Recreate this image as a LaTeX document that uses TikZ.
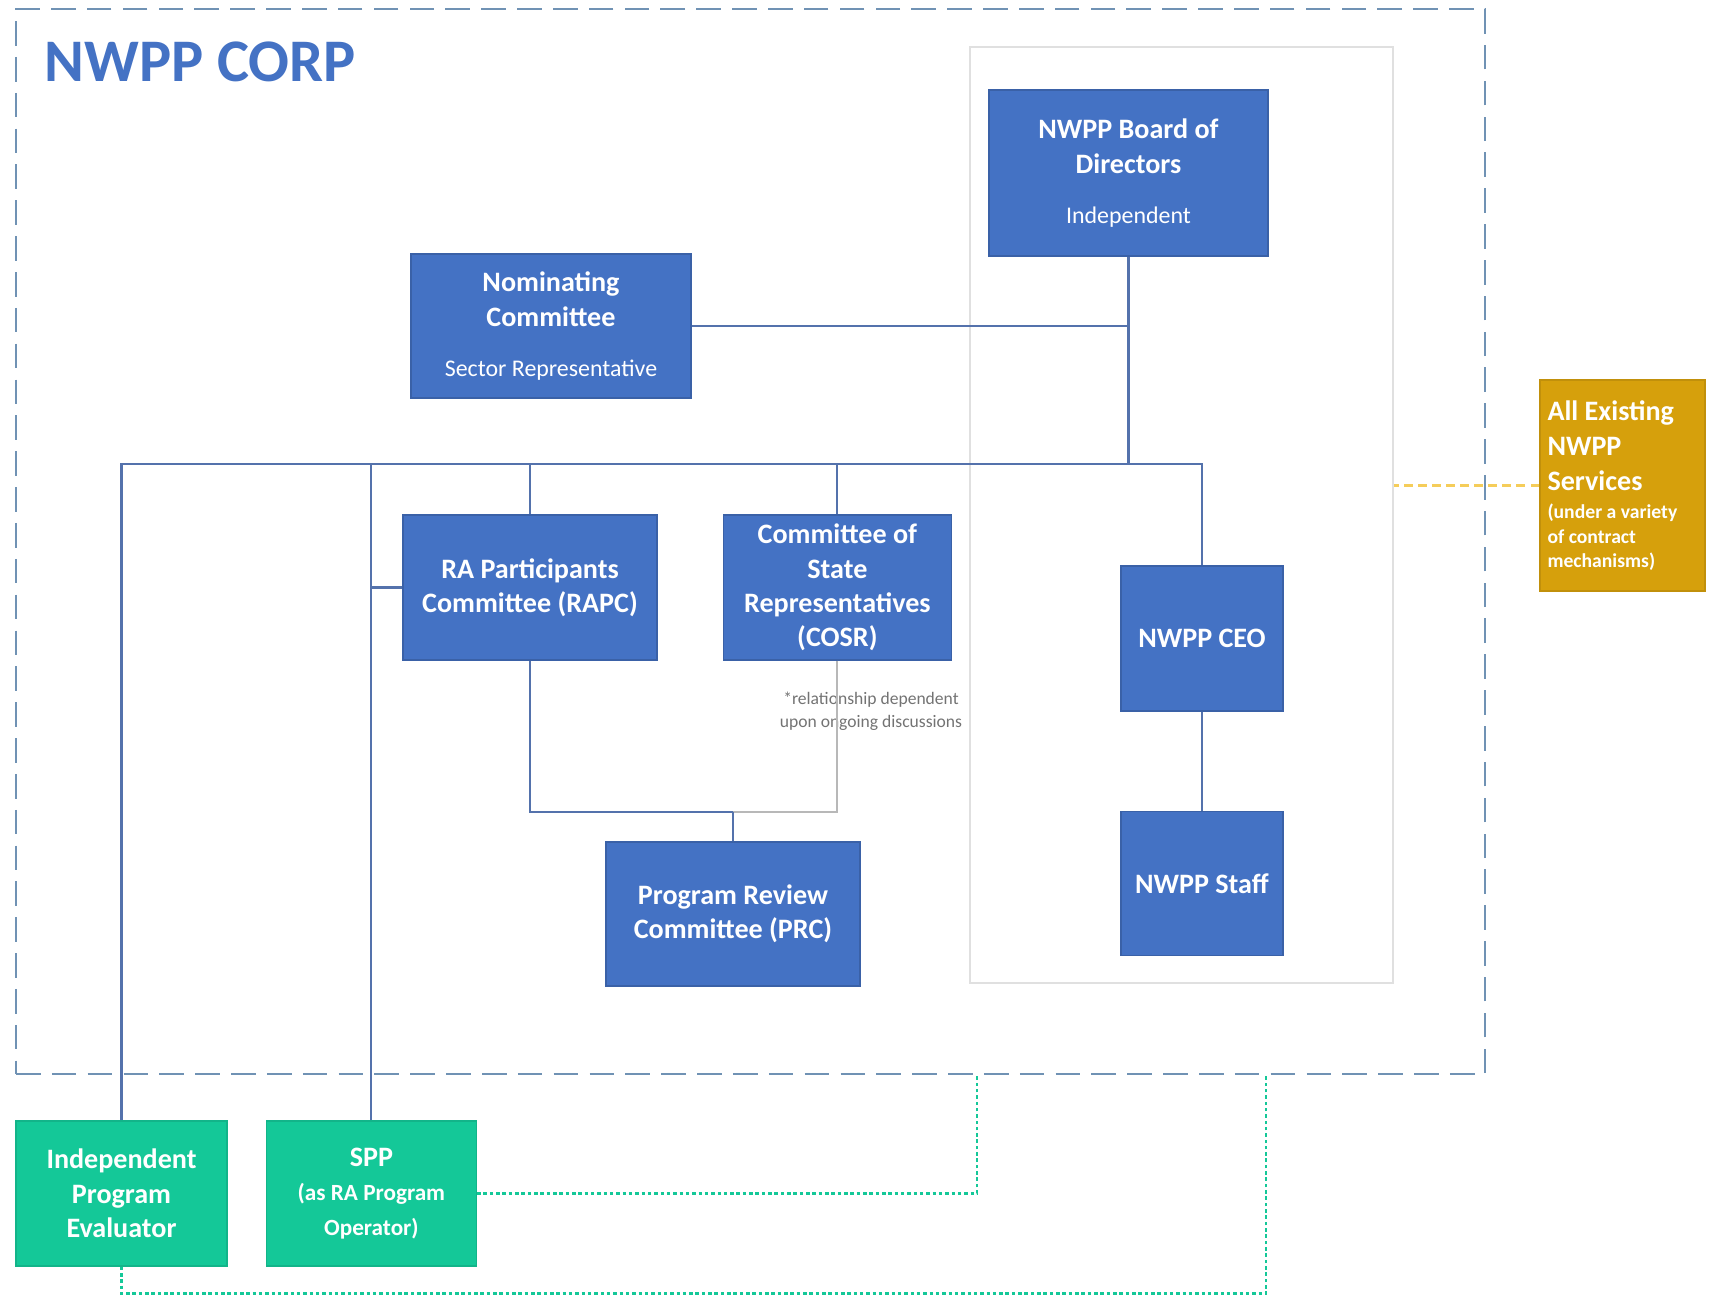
\documentclass[tikz,border=0pt]{standalone}
\usepackage{fontspec}
\setmainfont{Carlito}
\usetikzlibrary{positioning}
\definecolor{nwblue}{RGB}{68,114,196}
\definecolor{nwgreen}{RGB}{20,200,152}
\definecolor{nwgold}{RGB}{214,160,12}
\definecolor{nwframe}{RGB}{112,146,180}
\definecolor{nwline}{RGB}{84,114,172}
\definecolor{nwdots}{RGB}{245,205,90}
\newcommand\subline[1]{{\fontsize{6.8}{8}\selectfont\mdseries #1}}
\newcommand\smallline[1]{{\fontsize{6.6}{7}\selectfont #1}}
\newcommand\svcline[1]{{\fontsize{5.6}{6.5}\selectfont #1}}
\tikzset{
	unit/.style = {fill=nwblue, draw=nwblue!85!black, line width=0.4pt, text=white,
	 font=\fontsize{8}{9.8}\selectfont\bfseries, align=center, inner sep=0pt},
	ext/.style = {unit, fill=nwgreen, draw=nwgreen!90!black},
	svc/.style = {fill=nwgold, draw=nwgold!90!black, line width=0.4pt, text=white,
	 font=\fontsize{8}{10}\selectfont\bfseries, align=left, text width=1.5cm,
	 inner xsep=0.075cm, inner ysep=0pt, minimum height=2.11cm,
	 execute at begin node={\spaceskip=0pt\xspaceskip=0pt}},
	corp/.style = {draw=nwframe, line width=0.8pt, dash pattern=on 7pt off 3.2pt},
	govbox/.style = {draw=black!12, line width=0.5pt},
	link/.style = {draw=nwline, line width=0.6pt},
	faint/.style = {draw=black!28, line width=0.6pt},
	extlink/.style = {draw=nwgreen, line width=0.7pt, dash pattern=on 1pt off 0.8pt},
	svclink/.style = {draw=nwdots, line width=0.6pt, dash pattern=on 2.5pt off 1.5pt},
	note/.style = {text=black!55, font=\fontsize{5}{6.5}\selectfont, align=center, inner sep=0pt}
	}

\begin{document}
\begin{tikzpicture}[node distance=1, x=1cm, y=1cm]
\useasboundingbox (0,0) rectangle (17.16,-12.96);

% FRAMES
\node (corp) [corp, minimum width=14.69cm, minimum height=10.65cm] at (7.505,-5.415) {};
\node (gov) [govbox, minimum width=4.23cm, minimum height=9.36cm] at (11.815,-5.15) {};
\node (title) [anchor=west, inner sep=0pt, text=nwblue, font=\fontsize{17.2}{18}\selectfont\bfseries]
 at (0.44,-0.62) {NWPP CORP};

% NODES
% governance
\node (board) [unit, minimum width=2.79cm, minimum height=1.66cm] at (11.285,-1.73)
 {NWPP Board of\\Directors\\[4.4pt]\subline{Independent}};
\node (nom) [unit, minimum width=2.80cm, minimum height=1.44cm] at (5.51,-3.26)
 {Nominating\\Committee\\[4.4pt]\subline{Sector Representative}};
% committees
\node (rapc) [unit, minimum width=2.54cm, minimum height=1.45cm] at (5.30,-5.875)
 {RA Participants\\Committee (RAPC)};
\node (cosr) [unit, minimum width=2.28cm, minimum height=1.45cm, right=0.65 of rapc]
 {Committee of\\State\\Representatives\\(COSR)};
\node (prc) [unit, minimum width=2.54cm, minimum height=1.44cm] at (7.33,-9.14)
 {Program Review\\Committee (PRC)};
\node (note) [note] at (8.71,-7.115) {*relationship dependent\\upon ongoing discussions};
% staff
\node (ceo) [unit, minimum width=1.62cm, minimum height=1.45cm] at (12.02,-6.385) {NWPP CEO};
\node (staff) [unit, minimum width=1.62cm, minimum height=1.44cm, below=0.99 of ceo] {NWPP Staff};
% outside
\node (ipe) [ext, minimum width=2.11cm, minimum height=1.45cm] at (1.215,-11.935)
 {Independent\\Program\\Evaluator};
\node (spp) [ext, minimum width=2.10cm, minimum height=1.45cm, right=0.38 of ipe]
 {SPP\\\smallline{(as RA Program}\\\smallline{Operator)}};
\node (svc) [svc] at (16.225,-4.855)
 {All Existing\\NWPP\\Services\\[-2pt]\svcline{(under a variety}\\[-3.1pt]\svcline{of contract}\\[-3.1pt]\svcline{mechanisms)}};

\coordinate (bus) at (0,-4.64);
\coordinate (join) at (0,-8.12);
\coordinate (sppup) at (9.77,-10.74);
\coordinate (ipeup) at (12.66,-10.74);

%CONNECTIONS
\draw [link] (board) -- (board |- bus);
\draw [link] (nom) -- (nom -| board);
\draw [link] (ipe) -- (ipe |- bus) -- (ceo |- bus) -- (ceo);
\draw [link] (spp) -- (spp |- bus);
\draw [link] (rapc) -- (rapc |- bus);
\draw [link] (cosr) -- (cosr |- bus);
\draw [link] (rapc.west) -- (rapc.west -| spp);
\draw [link] (rapc) -- (rapc |- join) -- (prc |- join);
\draw [faint] (cosr) -- (cosr |- join) -- (prc |- join);
\draw [link] (prc) -- (prc |- join);
\draw [link] (ceo) -- (staff);
\draw [svclink] (svc.west) -- (svc.west -| gov.east);
\draw [extlink] (spp.east) -| (sppup);
\draw [extlink] (ipe.south) -- ++(0,-0.27) -| (ipeup);

\end{tikzpicture}
\end{document}
